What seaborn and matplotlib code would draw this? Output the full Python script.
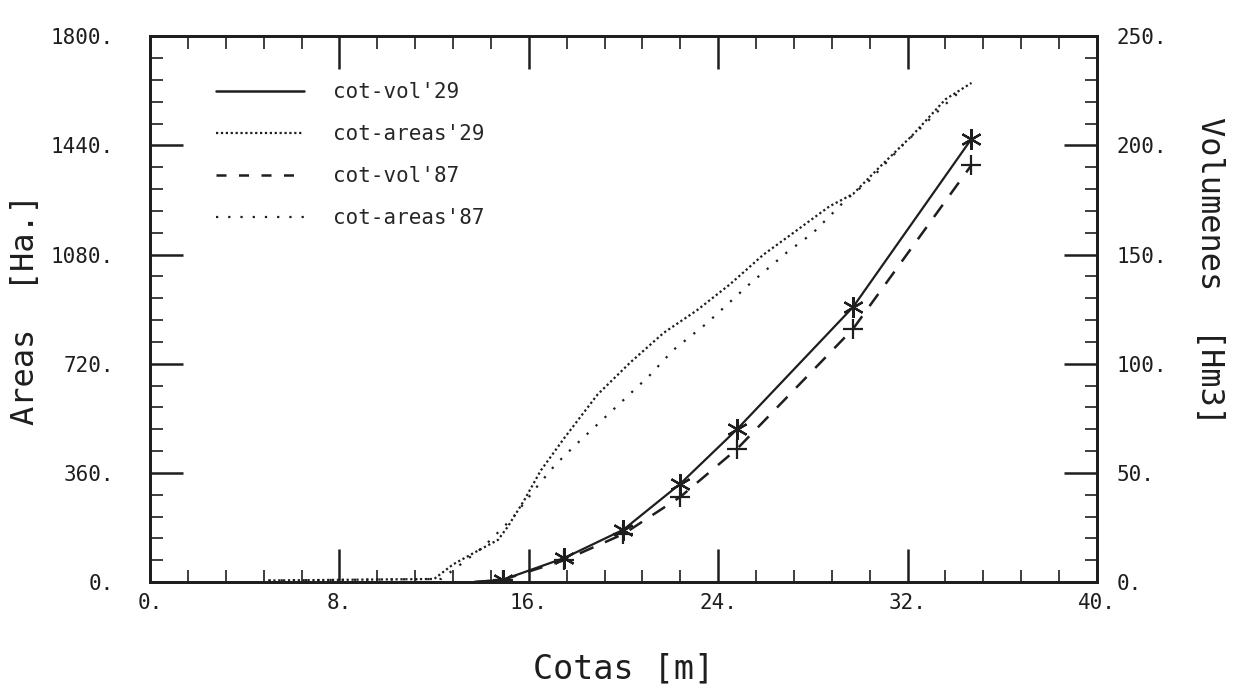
import matplotlib
matplotlib.use("Agg")
import matplotlib.pyplot as plt
from matplotlib.lines import Line2D
from matplotlib.ticker import MultipleLocator, FuncFormatter
import seaborn as sns
import pandas as pd

# Curvas cota-area-volumen
cotas_areas29 = [5, 12, 12.8, 13.7, 14.7, 15.1, 15.8, 16.5, 17.5, 18.9, 20.3, 21.7,
                 23.1, 24.5, 25.9, 27.2, 28.7, 29.7, 30.8, 32.2, 33.6, 34.7]
areas29 = [5, 10, 58, 97, 139, 181, 269, 367, 475, 618, 725, 822,
           896, 982, 1079, 1153, 1239, 1280, 1367, 1473, 1592, 1646]

cotas_areas87 = [5, 12.3, 13.0, 14.1, 15.3, 16.3, 17.1, 18.0, 19.6, 21.1, 22.1,
                 23.5, 25.3, 26.9, 28.0, 29.4, 30.4, 31.8, 33.5, 34.3]
areas87 = [5, 10, 51, 117, 210, 310, 385, 454, 571, 681, 765,
           852, 981, 1087, 1151, 1261, 1325, 1441, 1569, 1624]

cotas_vol = [13.7, 14.9, 17.5, 20.0, 22.4, 24.8, 29.7, 34.7]
vol29 = [0, 1, 11, 24, 45, 70, 126, 203]
vol87 = [0, 1, 10, 22, 39, 61, 116, 191]

labels = ["cot-vol'29", "cot-areas'29", "cot-vol'87", "cot-areas'87"]

ink = "#1e1e1e"

sns.set_style("ticks")
plt.rcParams['font.family'] = ['DejaVu Sans Mono', 'DejaVu Sans']
plt.rcParams['axes.edgecolor'] = ink
plt.rcParams['xtick.color'] = ink
plt.rcParams['ytick.color'] = ink

fig = plt.figure(figsize=(12.45, 6.9), dpi=100)
ax = fig.add_axes([0.1205, 0.1565, 0.7606, 0.791])
ax2 = ax.twinx()

df_a29 = pd.DataFrame({"cota": cotas_areas29, "area": areas29})
df_a87 = pd.DataFrame({"cota": cotas_areas87, "area": areas87})
df_v = pd.DataFrame({"cota": cotas_vol, "v29": vol29, "v87": vol87})

sns.lineplot(data=df_a29, x="cota", y="area", ax=ax, color=ink, lw=1.6,
             linestyle=(0, (1, 1.2)), sort=False)
sns.lineplot(data=df_a87, x="cota", y="area", ax=ax, color=ink, lw=1.6,
             linestyle=(0, (1, 4.5)), sort=False)

sns.lineplot(data=df_v, x="cota", y="v29", ax=ax2, color=ink, lw=1.6, sort=False)
sns.lineplot(data=df_v, x="cota", y="v87", ax=ax2, color=ink, lw=1.8,
             linestyle=(0, (6, 5)), sort=False)
ax2.plot(df_v["cota"][1:], df_v["v29"][1:], ls="none", marker=(6, 2, 0),
         ms=15, mew=1.6, color=ink)
ax2.plot(df_v["cota"][1:], df_v["v87"][1:], ls="none", marker="+",
         ms=15, mew=1.6, color=ink)

ax.set_xlim(0, 40)
ax.set_ylim(0, 1800)
ax2.set_ylim(0, 250)

fmt = FuncFormatter(lambda v, p: f"{v:g}.")
ax.xaxis.set_major_locator(MultipleLocator(8))
ax.xaxis.set_minor_locator(MultipleLocator(1.6))
ax.yaxis.set_major_locator(MultipleLocator(360))
ax.yaxis.set_minor_locator(MultipleLocator(72))
ax2.yaxis.set_major_locator(MultipleLocator(50))
ax2.yaxis.set_minor_locator(MultipleLocator(10))
ax.xaxis.set_major_formatter(fmt)
ax.yaxis.set_major_formatter(fmt)
ax2.yaxis.set_major_formatter(fmt)

ax.tick_params(axis="x", which="both", direction="in", top=True, labelsize=15, pad=8)
ax.tick_params(axis="y", which="both", direction="in", right=False, labelsize=15, pad=26)
ax.tick_params(which="major", length=24, width=1.8)
ax.tick_params(which="minor", length=9, width=1.2)
ax2.tick_params(axis="y", which="both", direction="in", labelsize=15, pad=14)
ax2.tick_params(which="major", length=24, width=1.8)
ax2.tick_params(which="minor", length=9, width=1.2)

for a in (ax, ax2):
    for s in a.spines.values():
        s.set_linewidth(2)
        s.set_color(ink)

ax.set_xlabel("Cotas [m]", fontsize=24, color=ink, labelpad=28)
ax.set_ylabel("Areas  [Ha.]", fontsize=23, color=ink)
ax.yaxis.set_label_coords(-0.115, 0.5)
ax2.set_ylabel("Volumenes  [Hm3]", fontsize=23, color=ink, rotation=-90)
ax2.yaxis.set_label_coords(1.135, 0.57)

handles = [
    Line2D([], [], color=ink, lw=1.8),
    Line2D([], [], color=ink, lw=1.6, linestyle=(0, (1, 1.2))),
    Line2D([], [], color=ink, lw=1.8, linestyle=(0, (4, 5))),
    Line2D([], [], color=ink, lw=1.6, linestyle=(0, (1, 4.5))),
]
ax.legend(handles, labels, loc="upper left", bbox_to_anchor=(0.05, 0.95),
          frameon=False, fontsize=15, handlelength=4.2, handletextpad=1.4,
          labelspacing=1.05)

fig.savefig("out.png", dpi=100)
